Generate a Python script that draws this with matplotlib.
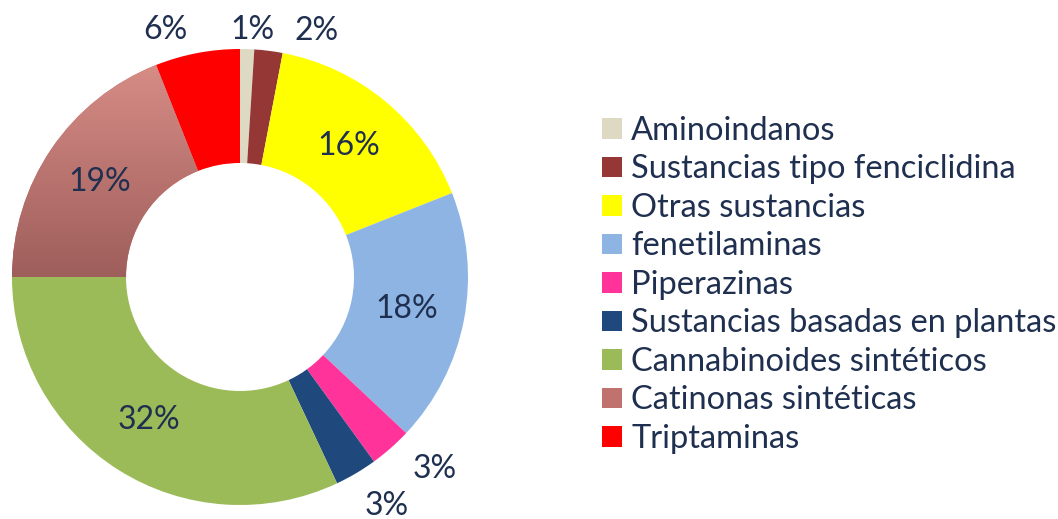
import numpy as np
import matplotlib
matplotlib.use('Agg')
import matplotlib.pyplot as plt
from matplotlib.colors import LinearSegmentedColormap
from matplotlib.patches import Patch

plt.rcParams['font.family'] = ['Lato', 'DejaVu Sans']

categories = ['Aminoindanos', 'Sustancias tipo fenciclidina', 'Otras sustancias',
              'fenetilaminas', 'Piperazinas', 'Sustancias basadas en plantas',
              'Cannabinoides sintéticos', 'Catinonas sintéticas', 'Triptaminas']
shares = [1, 2, 16, 18, 3, 3, 32, 19, 6]
labels = ['1%', '2%', '16%', '18%', '3%', '3%', '32%', '19%', '6%']

colors = ['#DDD9C3', '#953735', '#FFFF00', '#8EB4E3', '#FF3399',
          '#1F497D', '#9BBB59', '#C0736E', '#FF0000']
text_color = '#1F2F4F'

# label placement: radius and angle tweak (degrees, clockwise) per slice
lab_r = [1.085, 1.13, 0.745, 0.745, 1.2, 1.19, 0.745, 0.745, 1.13]
lab_da = [1.0, 10.0, 0, 0, -4.0, -2.0, 0, 0, -6.0]

W, H = 1058, 519
fig = plt.figure(figsize=(W / 100, H / 100), dpi=100)
cx, cy, R = 240, 277, 228
ax = fig.add_axes([(cx - R) / W, (H - cy - R) / H, 2 * R / W, 2 * R / H])

wedges, _ = ax.pie(shares, colors=colors, startangle=90, counterclock=False,
                   radius=1, wedgeprops=dict(width=0.5, linewidth=0))
ax.set_aspect('equal')
ax.axis('off')

# vertical gradient on Catinonas sintéticas
cat = wedges[7]
cmap = LinearSegmentedColormap.from_list('cat', ['#9E5E5B', '#D78C86'])
grad = np.linspace(0, 1, 256).reshape(-1, 1)
img = ax.imshow(grad, cmap=cmap, origin='lower', extent=[-1, 0, 0, 0.93],
                aspect='auto', zorder=cat.get_zorder() + 0.1)
img.set_clip_path(cat)
ax.set_xlim(-1, 1)
ax.set_ylim(-1, 1)

total = sum(shares)
cum = np.cumsum([0] + shares)
for i, lab in enumerate(labels):
    mid = (cum[i] + cum[i + 1]) / 2 / total * 360 + lab_da[i]
    a = np.deg2rad(90 - mid)
    ax.text(lab_r[i] * np.cos(a), lab_r[i] * np.sin(a), lab,
            ha='center', va='center', fontsize=23, color=text_color)

handles = [Patch(facecolor=c, edgecolor='none') for c in colors]
fig.legend(handles, categories, loc='center left',
           bbox_to_anchor=(602 / W, 0.451), frameon=False, fontsize=23.5,
           labelcolor=text_color, handlelength=0.6, handleheight=0.6,
           handletextpad=0.3, labelspacing=0.26, borderpad=0,
           borderaxespad=0)

fig.savefig('out.png', dpi=100)
